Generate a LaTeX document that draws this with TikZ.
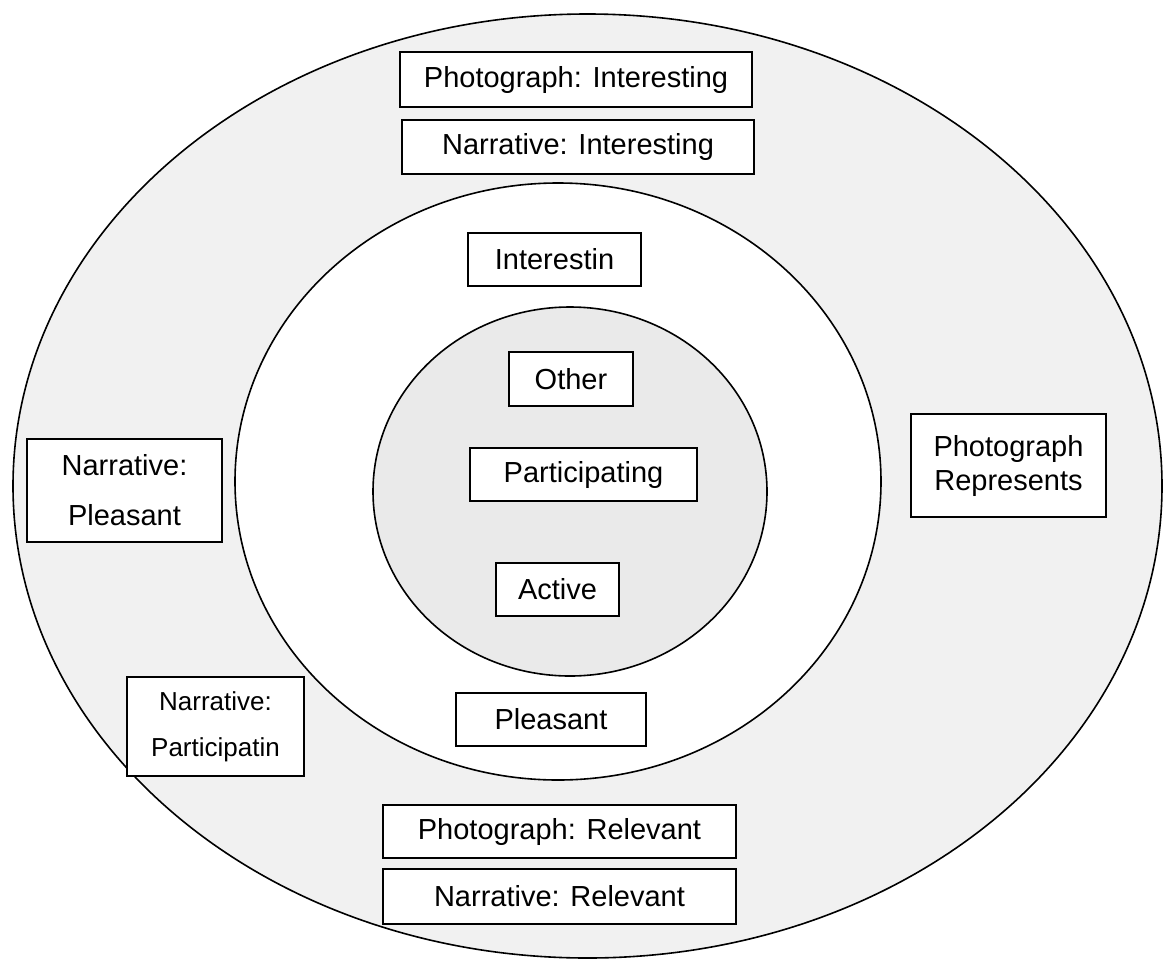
\documentclass[tikz,border=0pt]{standalone}
\usepackage{fontspec}
\setmainfont{Liberation Sans}
\begin{document}
\begin{tikzpicture}[x=1pt,y=-1pt,
  ring/.style={draw=black,line width=1.6pt},
  label/.style={draw=black,fill=white,line width=1.8pt,inner sep=0pt,
    font=\fontsize{29}{34}\selectfont},
  tallbox/.style={draw=black,fill=white,line width=1.8pt,inner sep=0pt,align=center}]
\useasboundingbox (0,0) rectangle (1165,967);
\definecolor{outergray}{RGB}{241,241,241}
\definecolor{innergray}{RGB}{234,234,234}

% three nested ellipses
\draw[ring,fill=outergray] (587.5,486) ellipse [x radius=574.5pt, y radius=472pt];
\draw[ring,fill=white]     (558,481.5) ellipse [x radius=323pt, y radius=298.5pt];
\draw[ring,fill=innergray] (570,491.5) ellipse [x radius=197pt, y radius=184.5pt];

% outer ring labels
\node[label,minimum width=352pt,minimum height=55pt] (phint) at (576,79.5) {Photograph: Interesting};
\node[label,minimum width=352pt,minimum height=54pt] (narint) at (578,147) {Narrative: Interesting};
\node[label,minimum width=353pt,minimum height=53pt] (phrel) at (559.5,831.5) {Photograph: Relevant};
\node[label,minimum width=353pt,minimum height=55pt] (narrel) at (559.5,896.5) {Narrative: Relevant};
\node[tallbox,minimum width=195pt,minimum height=103pt,
  font=\fontsize{29}{50}\selectfont] (narpleas) at (124.5,490.5) {Narrative:\\Pleasant};
\node[tallbox,minimum width=177pt,minimum height=99pt,
  font=\fontsize{26}{46}\selectfont] (narpart) at (215.5,726.5) {Narrative:\\Participatin};
\node[tallbox,minimum width=195pt,minimum height=103pt,
  font=\fontsize{29}{34}\selectfont] (phrep) at (1008.5,465.5) {Photograph\\Represents};

% middle ring labels
\node[label,minimum width=173pt,minimum height=53pt] (interestin) at (554.5,259.5) {Interestin};
\node[label,minimum width=190pt,minimum height=53pt] (pleasant) at (551,719.5) {Pleasant};

% inner ellipse labels
\node[label,minimum width=124pt,minimum height=54pt] (other) at (571,379) {Other};
\node[label,minimum width=227pt,minimum height=53pt] (particip) at (583.5,474.5) {Participating};
\node[label,minimum width=123pt,minimum height=53pt] (active) at (557.5,589.5) {Active};
\end{tikzpicture}
\end{document}
